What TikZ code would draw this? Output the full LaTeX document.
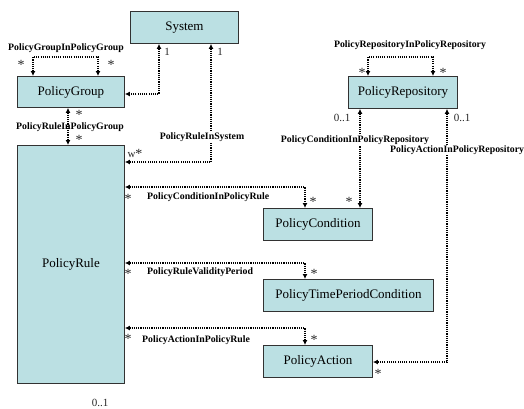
\documentclass[tikz,border=0pt]{standalone}
\usepackage{fontspec}
\setmainfont{Liberation Serif}
\usetikzlibrary{arrows.meta}
\definecolor{boxfill}{RGB}{187,224,227}
\definecolor{boxline}{RGB}{50,50,50}
\tikzset{
  cls/.style={draw=boxline, fill=boxfill, line width=0.9pt, anchor=north west,
    inner sep=0pt, font=\fontsize{13}{15}\selectfont},
  assoc/.style={line width=2pt, dash pattern=on 1.1pt off 1.1pt,
    {Latex[length=5pt,width=5pt]}-{Latex[length=5pt,width=5pt]}},
  alab/.style={font=\fontsize{9.8}{11}\selectfont\bfseries, inner sep=1pt},
  alabw/.style={alab, fill=white},
  mult/.style={font=\fontsize{11}{12}\selectfont, inner sep=0pt, text=black!85},
  star/.style={font=\fontsize{14}{14}\selectfont, inner sep=0pt, text=black!85}
}
\begin{document}
\begin{tikzpicture}[x=1pt,y=-1pt]
\useasboundingbox (0,0) rectangle (524,408);
% classes
\node[cls, minimum width=108pt, minimum height=32pt] (sys) at (130,11) {System};
\node[cls, minimum width=107pt, minimum height=31pt] (pg) at (17,76) {PolicyGroup};
\node[cls, minimum width=107pt, minimum height=238pt] (pr) at (17,145) {PolicyRule};
\node[cls, minimum width=109pt, minimum height=32pt] (prep) at (348,76) {PolicyRepository};
\node[cls, minimum width=109pt, minimum height=32pt] (pc) at (263,208) {PolicyCondition};
\node[cls, minimum width=170pt, minimum height=32pt] (ptpc) at (263,279) {PolicyTimePeriodCondition};
\node[cls, minimum width=109pt, minimum height=32pt] (pa) at (263,345) {PolicyAction};
% bend points
\coordinate (g1) at (33,57);
\coordinate (g2) at (98,57);
\coordinate (r1) at (368,57);
\coordinate (r2) at (433,57);
\coordinate (s1) at (159,94);
\coordinate (s2) at (211,162);
\coordinate (c1) at (305,187);
\coordinate (v1) at (305,263);
\coordinate (a1) at (305,328);
\coordinate (q1) at (447,362);
\coordinate (gx) at (68,0);
\coordinate (cx) at (360,0);
% label under the line
\node[alab] (lrpg) at (70,127) {PolicyRuleInPolicyGroup};
% connectors
\draw[assoc] (pg.north -| g1) -- (g1) -- (g2) -- (pg.north -| g2);
\draw[assoc] (prep.north -| r1) -- (r1) -- (r2) -- (prep.north -| r2);
\draw[assoc] (sys.south -| s1) -- (s1) -- (pg.east |- s1);
\draw[assoc] (sys.south -| s2) -- (s2) -- (pr.east |- s2);
\draw[assoc] (pg.south -| gx) -- (pr.north -| gx);
\draw[assoc] (pr.east |- c1) -- (c1) -- (pc.north -| c1);
\draw[assoc] (prep.south -| cx) -- (pc.north -| cx);
\draw[assoc] (prep.south -| q1) -- (q1) -- (pa.east |- q1);
\draw[assoc] (pr.east |- v1) -- (v1) -- (ptpc.north -| v1);
\draw[assoc] (pr.east |- a1) -- (a1) -- (pa.north -| a1);
% association labels
\node[alab] (lgg) at (66,48) {PolicyGroupInPolicyGroup};
\node[alab] (lrr) at (410,45) {PolicyRepositoryInPolicyRepository};
\node[alabw] (lrs) at (202,137) {PolicyRuleInSystem};
\node[alabw] (lcr) at (355,140) {PolicyConditionInPolicyRepository};
\node[alabw, anchor=west] (lar) at (389,150) {PolicyActionInPolicyRepository};
\node[alab, anchor=west] (lcpr) at (146,197) {PolicyConditionInPolicyRule};
\node[alab, anchor=west] (lrvp) at (146,272) {PolicyRuleValidityPeriod};
\node[alab, anchor=west] (lapr) at (141,340) {PolicyActionInPolicyRule};
% multiplicities
\node[star] (m1) at (21,65) {*};
\node[star] (m2) at (111,65) {*};
\node[star] (m3) at (79,115) {*};
\node[star] (m4) at (79,140) {*};
\node[mult] (m5) at (167,52) {1};
\node[mult] (m6) at (220,52) {1};
\node[mult] (m7) at (135,154) {w\raisebox{-0.2ex}{\fontsize{14}{14}\selectfont*}};
\node[star] (m8) at (128,199) {*};
\node[star] (m9) at (128,274) {*};
\node[star] (m10) at (128,339) {*};
\node[star] (m11) at (313,202) {*};
\node[star] (m12) at (349,202) {*};
\node[star] (m13) at (314,274) {*};
\node[star] (m14) at (314,340) {*};
\node[star] (m15) at (378,374) {*};
\node[star] (m16) at (362,73) {*};
\node[star] (m17) at (443,73) {*};
\node[mult] (m18) at (342,118) {0..1};
\node[mult] (m19) at (462,118) {0..1};
\node[mult] (m20) at (100,403) {0..1};
\end{tikzpicture}
\end{document}
